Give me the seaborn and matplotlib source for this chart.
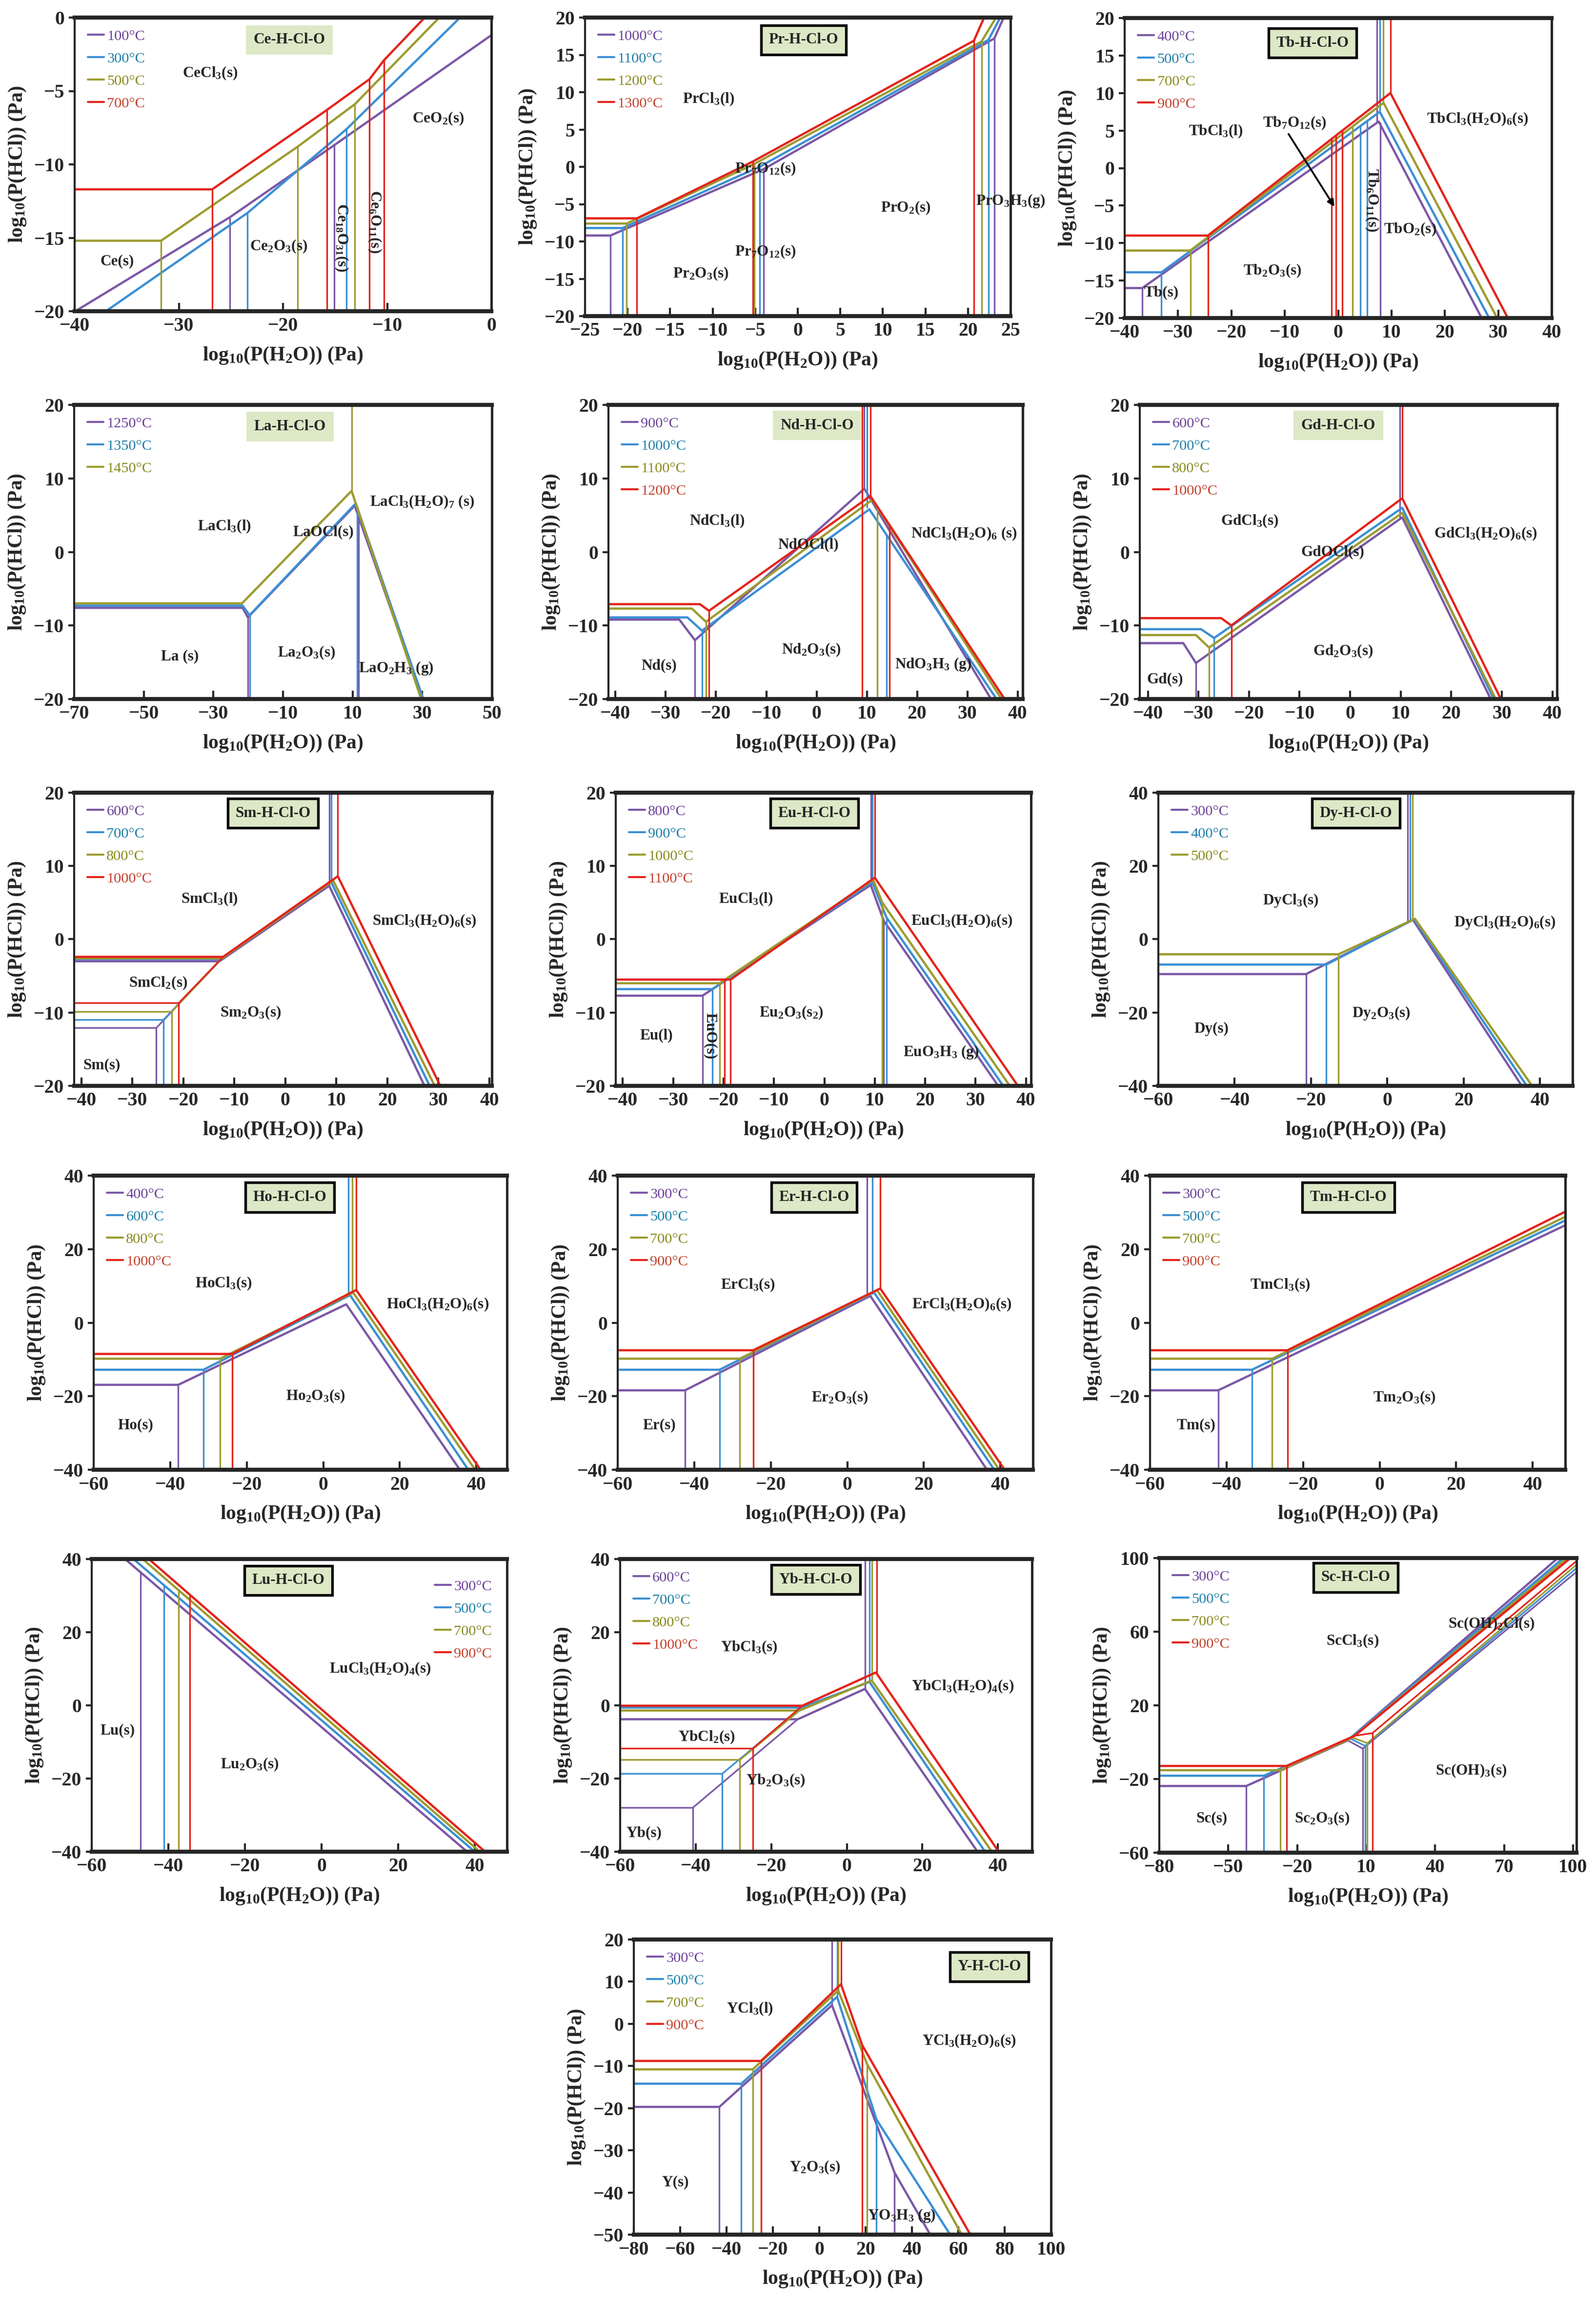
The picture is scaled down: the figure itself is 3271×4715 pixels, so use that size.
"""
plot.py
Predominance diagrams log P(HCl) vs log P(H2O) for the RE-H-Cl-O systems.
"""

import matplotlib
matplotlib.use('Agg')
import matplotlib.pyplot as plt
from matplotlib.lines import Line2D
import pandas as pd
import seaborn as sns

W_PX, H_PX, DPI = 3271, 4715, 300

LINE_COLORS = ['#7b58a6', '#3b8fd4', '#9d9b2f', '#e3241c']
TEXT_COLORS = ['#6b3f98', '#1c7ea8', '#878a1c', '#c2402a']

# ---------------- Ce ----------------
CE_TEMPS = ['100°C', '300°C', '500°C', '700°C']
CE_LINES = [
    [[(-39.7, -19.9), (-25.1, -13.6), (-15.1, -8.7), (0, -1.2)],
     [(-25.1, -13.6), (-25.1, -20)], [(-15.1, -8.7), (-15.1, -20)]],
    [[(-37.0, -20), (-23.4, -13.3), (-13.9, -7.6), (-3.0, 0)],
     [(-23.4, -13.3), (-23.4, -20)], [(-13.9, -7.6), (-13.9, -20)]],
    [[(-40, -15.2), (-31.7, -15.2), (-18.6, -8.8), (-13.1, -5.9), (-5.0, 0)],
     [(-31.7, -15.2), (-31.7, -20)], [(-18.6, -8.8), (-18.6, -20)], [(-13.1, -5.9), (-13.1, -20)]],
    [[(-40, -11.7), (-26.8, -11.7), (-15.8, -6.3), (-11.7, -4.2), (-10.3, -2.9), (-6.4, 0)],
     [(-26.8, -11.7), (-26.8, -20)], [(-15.8, -6.3), (-15.8, -20)],
     [(-11.7, -4.2), (-11.7, -20)], [(-10.3, -2.9), (-10.3, -20)]],
]
CE_TEXT = [(-27, -3.8, 'CeCl$_3$(s)', 0), (-5.1, -6.9, 'CeO$_2$(s)', 0), (-35.9, -16.6, 'Ce(s)', 0),
           (-20.4, -15.6, 'Ce$_2$O$_3$(s)', 0), (-14.4, -15.0, 'Ce$_{18}$O$_{31}$(s)', -90),
           (-11.2, -13.9, 'Ce$_6$O$_{11}$(s)', -90)]

# ---------------- Pr ----------------
PR_TEMPS = ['1000°C', '1100°C', '1200°C', '1300°C']
PR_LINES = [
    [[(-25, -9.2), (-22.0, -9.2), (-4.0, -0.3), (23.1, 17.2), (24.2, 20)],
     [(-22.0, -9.2), (-22.0, -20)], [(-4.0, -0.3), (-4.0, -20)], [(23.1, 17.2), (23.1, -20)]],
    [[(-25, -8.2), (-20.6, -8.2), (-4.5, 0.0), (22.4, 17.0), (23.8, 20)],
     [(-20.6, -8.2), (-20.6, -20)], [(-4.5, 0.0), (-4.5, -20)], [(22.4, 17.0), (22.4, -20)]],
    [[(-25, -7.6), (-20.1, -7.6), (-5.1, 0.4), (21.6, 16.8), (23.3, 20)],
     [(-20.1, -7.6), (-20.1, -20)], [(-5.1, 0.4), (-5.1, -20)], [(21.6, 16.8), (21.6, -20)]],
    [[(-25, -6.9), (-18.9, -6.9), (-5.3, 0.7), (20.7, 16.9), (21.9, 20)],
     [(-18.9, -6.9), (-18.9, -20)], [(-5.3, 0.7), (-5.3, -20)], [(20.7, 16.9), (20.7, -20)]],
]
PR_TEXT = [(-10.5, 9.1, 'PrCl$_3$(l)', 0), (-3.8, -0.3, 'Pr$_7$O$_{12}$(s)', 0),
           (-3.8, -11.4, 'Pr$_7$O$_{12}$(s)', 0), (-11.4, -14.3, 'Pr$_2$O$_3$(s)', 0),
           (12.7, -5.5, 'PrO$_2$(s)', 0), (25.0, -4.6, 'PrO$_3$H$_3$(g)', 0)]

# ---------------- Tb ----------------
TB_TEMPS = ['400°C', '500°C', '700°C', '900°C']
TB_LINES = [
    [[(-40, -16.0), (-36.7, -16.0), (7.6, 6.2), (26.9, -20)],
     [(-36.7, -16.0), (-36.7, -20)], [(7.3, 6.2), (7.3, 20)], [(7.9, 6.0), (7.9, -20)]],
    [[(-40, -13.9), (-33.1, -13.9), (7.8, 7.5), (28.3, -20)],
     [(-33.1, -13.9), (-33.1, -20)], [(7.8, 7.5), (7.8, 20)], [(5.4, 6.2), (5.4, -20)], [(4.2, 5.6), (4.2, -20)]],
    [[(-40, -11.0), (-27.7, -11.0), (8.5, 8.7), (29.8, -20)],
     [(-27.7, -11.0), (-27.7, -20)], [(8.5, 8.7), (8.5, 20)], [(2.7, 5.5), (2.7, -20)]],
    [[(-40, -9.0), (-24.4, -9.0), (9.8, 10.0), (31.8, -20)],
     [(-24.4, -9.0), (-24.4, -20)], [(9.8, 10.0), (9.8, 20)], [(-1.2, 3.9), (-1.2, -20)],
     [(-0.4, 4.3), (-0.4, -20)], [(0.75, 5.0), (0.75, -20)]],
]
TB_TEXT = [(-22.9, 4.9, 'TbCl$_3$(l)', 0), (-8.1, 6.0, 'Tb$_7$O$_{12}$(s)', 0),
           (26.1, 6.5, 'TbCl$_3$(H$_2$O)$_6$(s)', 0), (6.3, -4.3, 'Tb$_6$O$_{11}$(s)', -90),
           (13.5, -8.2, 'TbO$_2$(s)', 0), (-12.3, -13.7, 'Tb$_2$O$_3$(s)', 0), (-33.1, -16.6, 'Tb(s)', 0)]

# ---------------- La ----------------
LA_TEMPS = ['1250°C', '1350°C', '1450°C']
LA_LINES = [
    [[(-70, -7.6), (-21.6, -7.6), (-20.1, -8.9), (10.6, 6.3), (30.0, -20)],
     [(-20.1, -8.9), (-20.1, -20)], [(11.7, 4.8), (11.7, -20)]],
    [[(-70, -7.3), (-21.6, -7.3), (-19.6, -8.6), (10.9, 6.6), (30.3, -20)],
     [(-19.6, -8.6), (-19.6, -20)], [(11.3, 6.0), (11.3, -20)]],
    [[(-70, -7.0), (-21.8, -7.0), (9.7, 8.3), (29.7, -20)], [(9.7, 8.3), (9.7, 20)]],
]
LA_TEXT = [(-26.8, 3.5, 'LaCl$_3$(l)', 0), (1.6, 2.7, 'LaOCl(s)', 0),
           (30.0, 6.8, 'LaCl$_3$(H$_2$O)$_7$ (s)', 0), (-39.6, -14.2, 'La (s)', 0),
           (-3.3, -13.7, 'La$_2$O$_3$(s)', 0), (22.5, -15.8, 'LaO$_2$H$_3$ (g)', 0)]

# ---------------- Nd ----------------
ND_TEMPS = ['900°C', '1000°C', '1100°C', '1200°C']
ND_LINES = [
    [[(-41.4, -9.2), (-27.3, -9.2), (-24.2, -12.0), (9.5, 8.6), (34.7, -20)],
     [(-24.2, -12.0), (-24.2, -20)], [(9.5, 8.6), (9.5, 20)]],
    [[(-41.4, -8.9), (-25.7, -8.9), (-22.8, -10.7), (10.5, 5.8), (35.8, -20)],
     [(-22.8, -10.7), (-22.8, -20)], [(10.0, 6.1), (10.0, 20)], [(13.9, 2.3), (13.9, -20)]],
    [[(-41.4, -7.7), (-24.8, -7.7), (-22.0, -9.5), (11.1, 7.1), (36.8, -20)],
     [(-22.0, -9.5), (-22.0, -20)], [(12.1, 6.0), (12.1, -20)]],
    [[(-41.4, -7.1), (-23.2, -7.1), (-21.4, -8.0), (10.7, 7.6), (37.4, -20)],
     [(-21.4, -8.0), (-21.4, -20)], [(10.7, 7.6), (10.7, 20)], [(9.1, 20), (9.1, -20)],
     [(14.5, 3.7), (14.5, -20)]],
]
ND_TEXT = [(-19.8, 4.2, 'NdCl$_3$(l)', 0), (-1.6, 1.0, 'NdOCl(l)', 0),
           (29.3, 2.5, 'NdCl$_3$(H$_2$O)$_6$ (s)', 0), (-31.3, -15.5, 'Nd(s)', 0),
           (-1.0, -13.3, 'Nd$_2$O$_3$(s)', 0), (23.2, -15.3, 'NdO$_3$H$_3$ (g)', 0)]

# ---------------- Gd ----------------
GD_TEMPS = ['600°C', '700°C', '800°C', '1000°C']
GD_LINES = [
    [[(-41.6, -12.4), (-33.0, -12.4), (-30.5, -15.1), (10.3, 4.7), (27.8, -20)],
     [(-30.5, -15.1), (-30.5, -20)], [(9.8, 4.5), (9.8, 20)]],
    [[(-41.6, -10.5), (-29.5, -10.5), (-26.9, -11.7), (10.3, 6.0), (28.4, -20)],
     [(-26.9, -11.7), (-26.9, -20)]],
    [[(-41.6, -11.3), (-30.5, -11.3), (-27.9, -13.0), (10.3, 5.3), (28.8, -20)],
     [(-27.9, -13.0), (-27.9, -20)]],
    [[(-41.6, -9.0), (-25.5, -9.0), (-23.5, -10.0), (10.3, 7.3), (29.8, -20)],
     [(-23.5, -10.0), (-23.5, -20)], [(10.3, 7.3), (10.3, 20)]],
]
GD_TEXT = [(-19.9, 4.2, 'GdCl$_3$(s)', 0), (-3.4, 0.0, 'GdOCl(s)', 0),
           (26.8, 2.5, 'GdCl$_3$(H$_2$O)$_6$(s)', 0), (-1.4, -13.5, 'Gd$_2$O$_3$(s)', 0),
           (-36.6, -17.3, 'Gd(s)', 0)]

# ---------------- Sm ----------------
SM_TEMPS = ['600°C', '700°C', '800°C', '1000°C']
SM_LINES = [
    [[(-41.4, -3.0), (-12.9, -3.0), (8.6, 7.3), (27.3, -20)],
     [(-41.4, -12.1), (-25.3, -12.1), (-12.9, -3.0)], [(-25.3, -12.1), (-25.3, -20)], [(8.6, 7.3), (8.6, 20)]],
    [[(-41.4, -2.7), (-12.6, -2.7), (9.0, 7.8), (28.3, -20)],
     [(-41.4, -11.0), (-23.9, -11.0), (-12.6, -2.7)], [(-23.9, -11.0), (-23.9, -20)], [(9.0, 7.8), (9.0, 20)]],
    [[(-41.4, -2.6), (-12.4, -2.6), (9.4, 8.0), (29.3, -20)],
     [(-41.4, -9.9), (-22.3, -9.9), (-12.4, -2.6)], [(-22.3, -9.9), (-22.3, -20)]],
    [[(-41.4, -2.4), (-12.2, -2.4), (10.3, 8.6), (30.4, -20)],
     [(-41.4, -8.7), (-20.9, -8.7), (-12.2, -2.4)], [(-20.9, -8.7), (-20.9, -20)], [(10.3, 8.6), (10.3, 20)]],
]
SM_TEXT = [(-14.9, 5.5, 'SmCl$_3$(l)', 0), (27.3, 2.5, 'SmCl$_3$(H$_2$O)$_6$(s)', 0),
           (-24.9, -6.0, 'SmCl$_2$(s)', 0), (-6.8, -10.0, 'Sm$_2$O$_3$(s)', 0), (-36.0, -17.2, 'Sm(s)', 0)]

# ---------------- Eu ----------------
EU_TEMPS = ['800°C', '900°C', '1000°C', '1100°C']
EU_LINES = [
    [[(-41.4, -7.7), (-24.2, -7.7), (9.2, 7.4), (11.8, 2.5), (34.5, -20)],
     [(-24.2, -7.7), (-24.2, -20)], [(9.2, 7.4), (9.2, 20)], [(11.8, 2.5), (11.8, -20)]],
    [[(-41.4, -6.8), (-22.2, -6.8), (9.5, 7.8), (12.3, 3.0), (35.5, -20)],
     [(-22.2, -6.8), (-22.2, -20)], [(9.5, 7.8), (9.5, 20)], [(12.3, 3.0), (12.3, -20)]],
    [[(-41.4, -6.0), (-20.8, -6.0), (9.7, 8.1), (11.5, 5.0), (36.8, -20)],
     [(-20.8, -6.0), (-20.8, -20)], [(11.5, 5.0), (11.5, -20)]],
    [[(-41.4, -5.5), (-18.6, -5.5), (10.0, 8.4), (38.4, -20)],
     [(-18.6, -5.5), (-18.6, -20)], [(-19.8, -5.5), (-19.8, -20)], [(10.0, 8.4), (10.0, 20)]],
]
EU_TEXT = [(-15.6, 5.5, 'EuCl$_3$(l)', 0), (27.3, 2.5, 'EuCl$_3$(H$_2$O)$_6$(s)', 0),
           (-6.5, -10.0, 'Eu$_2$O$_3$(s$_2$)', 0), (-33.3, -13.1, 'Eu(l)', 0),
           (-22.6, -13.2, 'EuO(s)', -90), (23.2, -15.4, 'EuO$_3$H$_3$ (g)', 0)]

# ---------------- Dy ----------------
DY_TEMPS = ['300°C', '400°C', '500°C']
DY_LINES = [
    [[(-60, -9.5), (-21.3, -9.5), (6.7, 5.3), (35.2, -40)], [(-21.3, -9.5), (-21.3, -40)], [(5.3, 4.6), (5.3, 40)]],
    [[(-60, -6.9), (-16.0, -6.9), (7.0, 5.5), (36.5, -40)], [(-16.0, -6.9), (-16.0, -40)], [(6.0, 5.0), (6.0, 40)]],
    [[(-60, -4.1), (-12.8, -4.1), (7.2, 5.6), (37.9, -40)], [(-12.8, -4.1), (-12.8, -40)], [(6.6, 5.3), (6.6, 40)]],
]
DY_TEXT = [(-25.3, 10.6, 'DyCl$_3$(s)', 0), (30.7, 4.6, 'DyCl$_3$(H$_2$O)$_6$(s)', 0),
           (-1.6, -20.2, 'Dy$_2$O$_3$(s)', 0), (-46.1, -24.5, 'Dy(s)', 0)]

# ---------------- Ho ----------------
HO_TEMPS = ['400°C', '600°C', '800°C', '1000°C']
HO_LINES = [
    [[(-60, -16.9), (-37.9, -16.9), (6.0, 5.0), (35.7, -40)], [(-37.9, -16.9), (-37.9, -40)]],
    [[(-60, -12.8), (-31.3, -12.8), (7.0, 7.5), (37.9, -40)], [(-31.3, -12.8), (-31.3, -40)], [(6.5, 7.2), (6.5, 40)]],
    [[(-60, -9.8), (-27.0, -9.8), (7.8, 8.2), (39.7, -40)], [(-27.0, -9.8), (-27.0, -40)], [(7.6, 8.1), (7.6, 40)]],
    [[(-60, -8.5), (-23.8, -8.5), (8.6, 8.9), (41.1, -40)], [(-23.8, -8.5), (-23.8, -40)], [(8.6, 8.9), (8.6, 40)]],
]
HO_TEXT = [(-26, 10.6, 'HoCl$_3$(s)', 0), (29.9, 4.9, 'HoCl$_3$(H$_2$O)$_6$(s)', 0),
           (-2, -20, 'Ho$_2$O$_3$(s)', 0), (-49.1, -27.9, 'Ho(s)', 0)]

# ---------------- Er ----------------
ER_TEMPS = ['300°C', '500°C', '700°C', '900°C']
ER_LINES = [
    [[(-60, -18.4), (-42.4, -18.4), (6.0, 7.3), (36.5, -40)], [(-42.4, -18.4), (-42.4, -40)], [(5.2, 6.9), (5.2, 40)]],
    [[(-60, -12.8), (-33.4, -12.8), (7.0, 8.2), (38.4, -40)], [(-33.4, -12.8), (-33.4, -40)], [(6.5, 7.9), (6.5, 40)]],
    [[(-60, -9.8), (-28.1, -9.8), (7.8, 8.8), (39.7, -40)], [(-28.1, -9.8), (-28.1, -40)]],
    [[(-60, -7.5), (-24.6, -7.5), (8.6, 9.3), (41.1, -40)], [(-24.6, -7.5), (-24.6, -40)], [(8.6, 9.3), (8.6, 40)]],
]
ER_TEXT = [(-26, 10.3, 'ErCl$_3$(s)', 0), (29.9, 4.9, 'ErCl$_3$(H$_2$O)$_6$(s)', 0),
           (-2, -20.4, 'Er$_2$O$_3$(s)', 0), (-49.1, -27.9, 'Er(s)', 0)]

# ---------------- Tm ----------------
TM_TEMPS = ['300°C', '500°C', '700°C', '900°C']
TM_LINES = [
    [[(-60, -18.4), (-42.2, -18.4), (48.5, 26.5)], [(-42.2, -18.4), (-42.2, -40)]],
    [[(-60, -12.8), (-33.4, -12.8), (48.5, 27.8)], [(-33.4, -12.8), (-33.4, -40)]],
    [[(-60, -9.8), (-28.1, -9.8), (48.5, 28.8)], [(-28.1, -9.8), (-28.1, -40)]],
    [[(-60, -7.5), (-24.1, -7.5), (48.5, 30.2)], [(-24.1, -7.5), (-24.1, -40)]],
]
TM_TEXT = [(-26, 10.3, 'TmCl$_3$(s)', 0), (6.5, -20.4, 'Tm$_2$O$_3$(s)', 0), (-48, -27.9, 'Tm(s)', 0)]

# ---------------- Lu ----------------
LU_TEMPS = ['300°C', '500°C', '700°C', '900°C']
LU_LINES = [
    [[(-51.3, 40), (38.0, -40)], [(-47.3, 36.4), (-47.3, -40)]],
    [[(-49.1, 40), (40.0, -40)], [(-41.1, 32.8), (-41.1, -40)]],
    [[(-46.7, 40), (41.3, -40)], [(-37.3, 31.5), (-37.3, -40)]],
    [[(-45.1, 40), (42.7, -40)], [(-34.4, 30.3), (-34.4, -40)]],
]
LU_TEXT = [(15.3, 10.0, 'LuCl$_3$(H$_2$O)$_4$(s)', 0), (-53.3, -6.9, 'Lu(s)', 0),
           (-18.7, -16.2, 'Lu$_2$O$_3$(s)', 0)]

# ---------------- Yb ----------------
YB_TEMPS = ['600°C', '700°C', '800°C', '1000°C']
YB_LINES = [
    [[(-60, -3.8), (-13.0, -3.8), (4.8, 4.5), (34.6, -40)],
     [(-60, -28.0), (-40.8, -28.0), (-13.0, -3.8)], [(-40.8, -28.0), (-40.8, -40)], [(4.8, 4.5), (4.8, 40)]],
    [[(-60, -0.6), (-12.0, -0.6), (6.0, 6.4), (36.6, -40)],
     [(-60, -18.7), (-33.0, -18.7), (-12.0, -0.6)], [(-33.0, -18.7), (-33.0, -40)], [(6.0, 6.4), (6.0, 40)]],
    [[(-60, -1.4), (-12.5, -1.4), (6.6, 6.8), (38.4, -40)],
     [(-60, -14.9), (-28.3, -14.9), (-12.5, -1.4)], [(-28.3, -14.9), (-28.3, -40)], [(6.6, 6.8), (6.6, 40)]],
    [[(-60, -0.1), (-11.8, -0.1), (7.7, 9.0), (40.2, -40)],
     [(-60, -11.8), (-24.9, -11.8), (-11.8, -0.1)], [(-24.9, -11.8), (-24.9, -40)], [(7.9, 9.0), (7.9, 40)]],
]
YB_TEXT = [(-25.9, 15.8, 'YbCl$_3$(s)', 0), (-37.1, -8.7, 'YbCl$_2$(s)', 0),
           (-18.8, -20.6, 'Yb$_2$O$_3$(s)', 0), (-53.7, -34.9, 'Yb(s)', 0),
           (30.6, 5.2, 'YbCl$_3$(H$_2$O)$_4$(s)', 0)]

# ---------------- Sc ----------------
SC_TEMPS = ['300°C', '500°C', '700°C', '900°C']
SC_LINES = [
    [[(-80, -23.8), (-42.2, -23.8), (2.0, 1.0), (93.4, 100)], [(2.0, 1.0), (8.5, -3.5), (101.5, 92.5)],
     [(-42.2, -23.8), (-42.2, -60)], [(8.5, -3.5), (8.5, -60)]],
    [[(-80, -18.2), (-34.5, -18.2), (3.0, 2.0), (95.8, 100)], [(3.0, 2.0), (9.5, -2.0), (101.5, 94.5)],
     [(-34.5, -18.2), (-34.5, -60)], [(9.5, -2.0), (9.5, -60)]],
    [[(-80, -15.2), (-27.3, -15.2), (4.0, 2.5), (97.4, 100)], [(4.0, 2.5), (10.5, -0.5), (101.5, 96.4)],
     [(-27.3, -15.2), (-27.3, -60)], [(10.5, -0.5), (10.5, -60)]],
    [[(-80, -12.9), (-24.6, -12.9), (5.0, 3.5), (98.9, 100)], [(5.0, 3.5), (12.7, 4.9), (101.5, 98.4)],
     [(-24.6, -12.9), (-24.6, -60)], [(12.7, 4.9), (12.7, -60)]],
]
SC_TEXT = [(4, 55, 'ScCl$_3$(s)', 0), (64.4, 64.2, 'Sc(OH)$_2$Cl(s)', 0), (55.6, -15.5, 'Sc(OH)$_3$(s)', 0),
           (-57.1, -41.5, 'Sc(s)', 0), (-9.2, -41.5, 'Sc$_2$O$_3$(s)', 0)]

# ---------------- Y ----------------
Y_TEMPS = ['300°C', '500°C', '700°C', '900°C']
Y_LINES = [
    [[(-80, -19.7), (-43.1, -19.7), (5.5, 4.4), (32.5, -35.3), (47.9, -50)],
     [(-43.1, -19.7), (-43.1, -50)], [(5.5, 4.4), (5.5, 20)], [(32.5, -35.3), (32.5, -50)]],
    [[(-80, -14.2), (-33.6, -14.2), (7.7, 6.4), (24.7, -22.7), (56.5, -50)],
     [(-33.6, -14.2), (-33.6, -50)], [(7.7, 6.4), (7.7, 20)], [(24.7, -22.7), (24.7, -50)]],
    [[(-80, -10.8), (-28.7, -10.8), (8.2, 7.9), (20.7, -9.6), (61.5, -50)],
     [(-28.7, -10.8), (-28.7, -50)], [(8.2, 7.9), (8.2, 20)], [(20.7, -9.6), (20.7, -50)]],
    [[(-80, -8.8), (-25.1, -8.8), (9.4, 9.4), (18.5, -5.0), (65.2, -50)],
     [(-25.1, -8.8), (-25.1, -50)], [(9.4, 9.4), (9.4, 20)], [(18.5, -5.0), (18.5, -50)]],
]
Y_TEXT = [(-29.9, 3.6, 'YCl$_3$(l)', 0), (64.6, -4.1, 'YCl$_3$(H$_2$O)$_6$(s)', 0),
          (-1.9, -34.1, 'Y$_2$O$_3$(s)', 0), (-62, -37.6, 'Y(s)', 0), (35.5, -45.5, 'YO$_3$H$_3$ (g)', 0)]

T20 = [-20, -10, 0, 10, 20]
T40 = [-40, -20, 0, 20, 40]

# name, temps, lines, texts, xlim, ylim, xticks, yticks, box px (l, t, r, b), title pos, boxed title, legend corner
PANELS = [
    ('Ce-H-Cl-O', CE_TEMPS, CE_LINES, CE_TEXT, (-40, 0), (-20, 0), [-40, -30, -20, -10, 0],
     [-20, -15, -10, -5, 0], (153, 36, 1007, 638), (0.515, 0.924), False, 'left'),
    ('Pr-H-Cl-O', PR_TEMPS, PR_LINES, PR_TEXT, (-25, 25), (-20, 20), list(range(-25, 26, 5)),
     list(range(-20, 21, 5)), (1199, 36, 2071, 648), (0.514, 0.925), True, 'left'),
    ('Tb-H-Cl-O', TB_TEMPS, TB_LINES, TB_TEXT, (-40, 40), (-20, 20), list(range(-40, 41, 10)),
     list(range(-20, 21, 5)), (2305, 37, 3180, 652), (0.44, 0.917), True, 'left'),
    ('La-H-Cl-O', LA_TEMPS, LA_LINES, LA_TEXT, (-70, 50), (-20, 20), [-70, -50, -30, -10, 10, 30, 50],
     T20, (152, 830, 1008, 1433), (0.517, 0.926), False, 'left'),
    ('Nd-H-Cl-O', ND_TEMPS, ND_LINES, ND_TEXT, (-41.4, 41), (-20, 20), list(range(-40, 41, 10)),
     T20, (1247, 830, 2096, 1433), (0.504, 0.93), False, 'left'),
    ('Gd-H-Cl-O', GD_TEMPS, GD_LINES, GD_TEXT, (-41.6, 40.9), (-20, 20), list(range(-40, 41, 10)),
     T20, (2336, 830, 3191, 1433), (0.476, 0.93), False, 'left'),
    ('Sm-H-Cl-O', SM_TEMPS, SM_LINES, SM_TEXT, (-41.4, 40.5), (-20, 20), list(range(-40, 41, 10)),
     T20, (152, 1625, 1008, 2226), (0.476, 0.93), True, 'left'),
    ('Eu-H-Cl-O', EU_TEMPS, EU_LINES, EU_TEXT, (-41.4, 41), (-20, 20), list(range(-40, 41, 10)),
     T20, (1262, 1625, 2113, 2226), (0.478, 0.93), True, 'left'),
    ('Dy-H-Cl-O', DY_TEMPS, DY_LINES, DY_TEXT, (-60, 48.5), (-40, 40), [-60, -40, -20, 0, 20, 40],
     T40, (2374, 1625, 3223, 2226), (0.477, 0.93), True, 'left'),
    ('Ho-H-Cl-O', HO_TEMPS, HO_LINES, HO_TEXT, (-60, 48), (-40, 40), [-60, -40, -20, 0, 20, 40],
     T40, (192, 2410, 1039, 3013), (0.475, 0.926), True, 'left'),
    ('Er-H-Cl-O', ER_TEMPS, ER_LINES, ER_TEXT, (-60, 48.5), (-40, 40), [-60, -40, -20, 0, 20, 40],
     T40, (1266, 2410, 2117, 3013), (0.473, 0.926), True, 'left'),
    ('Tm-H-Cl-O', TM_TEMPS, TM_LINES, TM_TEXT, (-60, 48.5), (-40, 40), [-60, -40, -20, 0, 20, 40],
     T40, (2357, 2410, 3208, 3013), (0.478, 0.926), True, 'left'),
    ('Lu-H-Cl-O', LU_TEMPS, LU_LINES, LU_TEXT, (-60, 48.4), (-40, 40), [-60, -40, -20, 0, 20, 40],
     T40, (188, 3196, 1039, 3796), (0.474, 0.927), True, 'right'),
    ('Yb-H-Cl-O', YB_TEMPS, YB_LINES, YB_TEXT, (-60, 49), (-40, 40), [-60, -40, -20, 0, 20, 40],
     T40, (1271, 3196, 2115, 3796), (0.475, 0.93), True, 'left'),
    ('Sc-H-Cl-O', SC_TEMPS, SC_LINES, SC_TEXT, (-80, 101.5), (-60, 100), [-80, -50, -20, 10, 40, 70, 100],
     [-60, -20, 20, 60, 100], (2376, 3194, 3231, 3798), (0.471, 0.934), True, 'left'),
    ('Y-H-Cl-O', Y_TEMPS, Y_LINES, Y_TEXT, (-80, 100), (-50, 20), list(range(-80, 101, 20)),
     list(range(-50, 21, 10)), (1299, 3976, 2154, 4581), (0.852, 0.908), True, 'left'),
]

sns.set_style('ticks')
plt.rcParams['font.family'] = ['Liberation Serif', 'DejaVu Serif']
plt.rcParams['mathtext.default'] = 'regular'
plt.rcParams['axes.unicode_minus'] = True

fig = plt.figure(figsize=(W_PX / DPI, H_PX / DPI), dpi=DPI)

for (name, temps, lines, texts, xlim, ylim, xticks, yticks, box,
     title_xy, boxed, leg_side) in PANELS:
    l, t, r, b = box
    ax = fig.add_axes([l / W_PX, 1 - b / H_PX, (r - l) / W_PX, (b - t) / H_PX])

    for i, polys in enumerate(lines):
        for j, poly in enumerate(polys):
            df = pd.DataFrame(poly, columns=['x', 'y'])
            sns.lineplot(data=df, x='x', y='y', sort=False, estimator=None,
                         color=LINE_COLORS[i], lw=1.1 if j == 0 else 0.8, ax=ax)

    for x, y, s, rot in texts:
        ax.text(x, y, s, rotation=rot, ha='center', va='center', fontsize=7.5, fontweight='bold')

    if name.startswith('Tb'):
        ax.annotate('', xy=(-0.3, -5.6), xytext=(-9.7, 5.0),
                    arrowprops=dict(arrowstyle='-|>', color='black', lw=0.9, mutation_scale=7))

    ax.text(title_xy[0], title_xy[1], name, transform=ax.transAxes, ha='center', va='center',
            fontsize=7.5, fontweight='bold',
            bbox=dict(boxstyle='square,pad=0.5', fc='#dde8c6',
                      ec='black' if boxed else 'none', lw=1.3))

    handles = [Line2D([], [], color=LINE_COLORS[i], lw=1.0) for i in range(len(temps))]
    leg_kw = dict(frameon=False, prop={'size': 7.3}, handlelength=1.1, handletextpad=0.2,
                  labelspacing=0.62, borderaxespad=0.3, borderpad=0.3,
                  labelcolor=TEXT_COLORS[:len(temps)])
    if leg_side == 'left':
        ax.legend(handles, temps, loc='upper left', bbox_to_anchor=(0.01, 0.99), **leg_kw)
    else:
        ax.legend(handles, temps, loc='upper right', bbox_to_anchor=(0.985, 0.96), **leg_kw)

    ax.set_xlim(*xlim)
    ax.set_ylim(*ylim)
    ax.set_xticks(xticks)
    ax.set_yticks(yticks)
    ax.tick_params(axis='x', direction='in', length=4, width=1.0, labelsize=9.5, pad=3)
    ax.tick_params(axis='y', direction='out', length=3, width=1.0, labelsize=9.5, pad=2)
    for lab in ax.get_xticklabels() + ax.get_yticklabels():
        lab.set_fontweight('bold')
    ax.set_xlabel('log$_{10}$(P(H$_2$O)) (Pa)', fontsize=10, fontweight='bold', labelpad=5)
    ax.set_ylabel('log$_{10}$(P(HCl)) (Pa)', fontsize=10, fontweight='bold', labelpad=3)
    ax.spines['top'].set_linewidth(2.0)
    ax.spines['bottom'].set_linewidth(2.0)
    ax.spines['left'].set_linewidth(1.0)
    ax.spines['right'].set_linewidth(1.2)
    for sp in ax.spines.values():
        sp.set_visible(True)

fig.savefig('out.png', dpi=DPI)
plt.close(fig)
